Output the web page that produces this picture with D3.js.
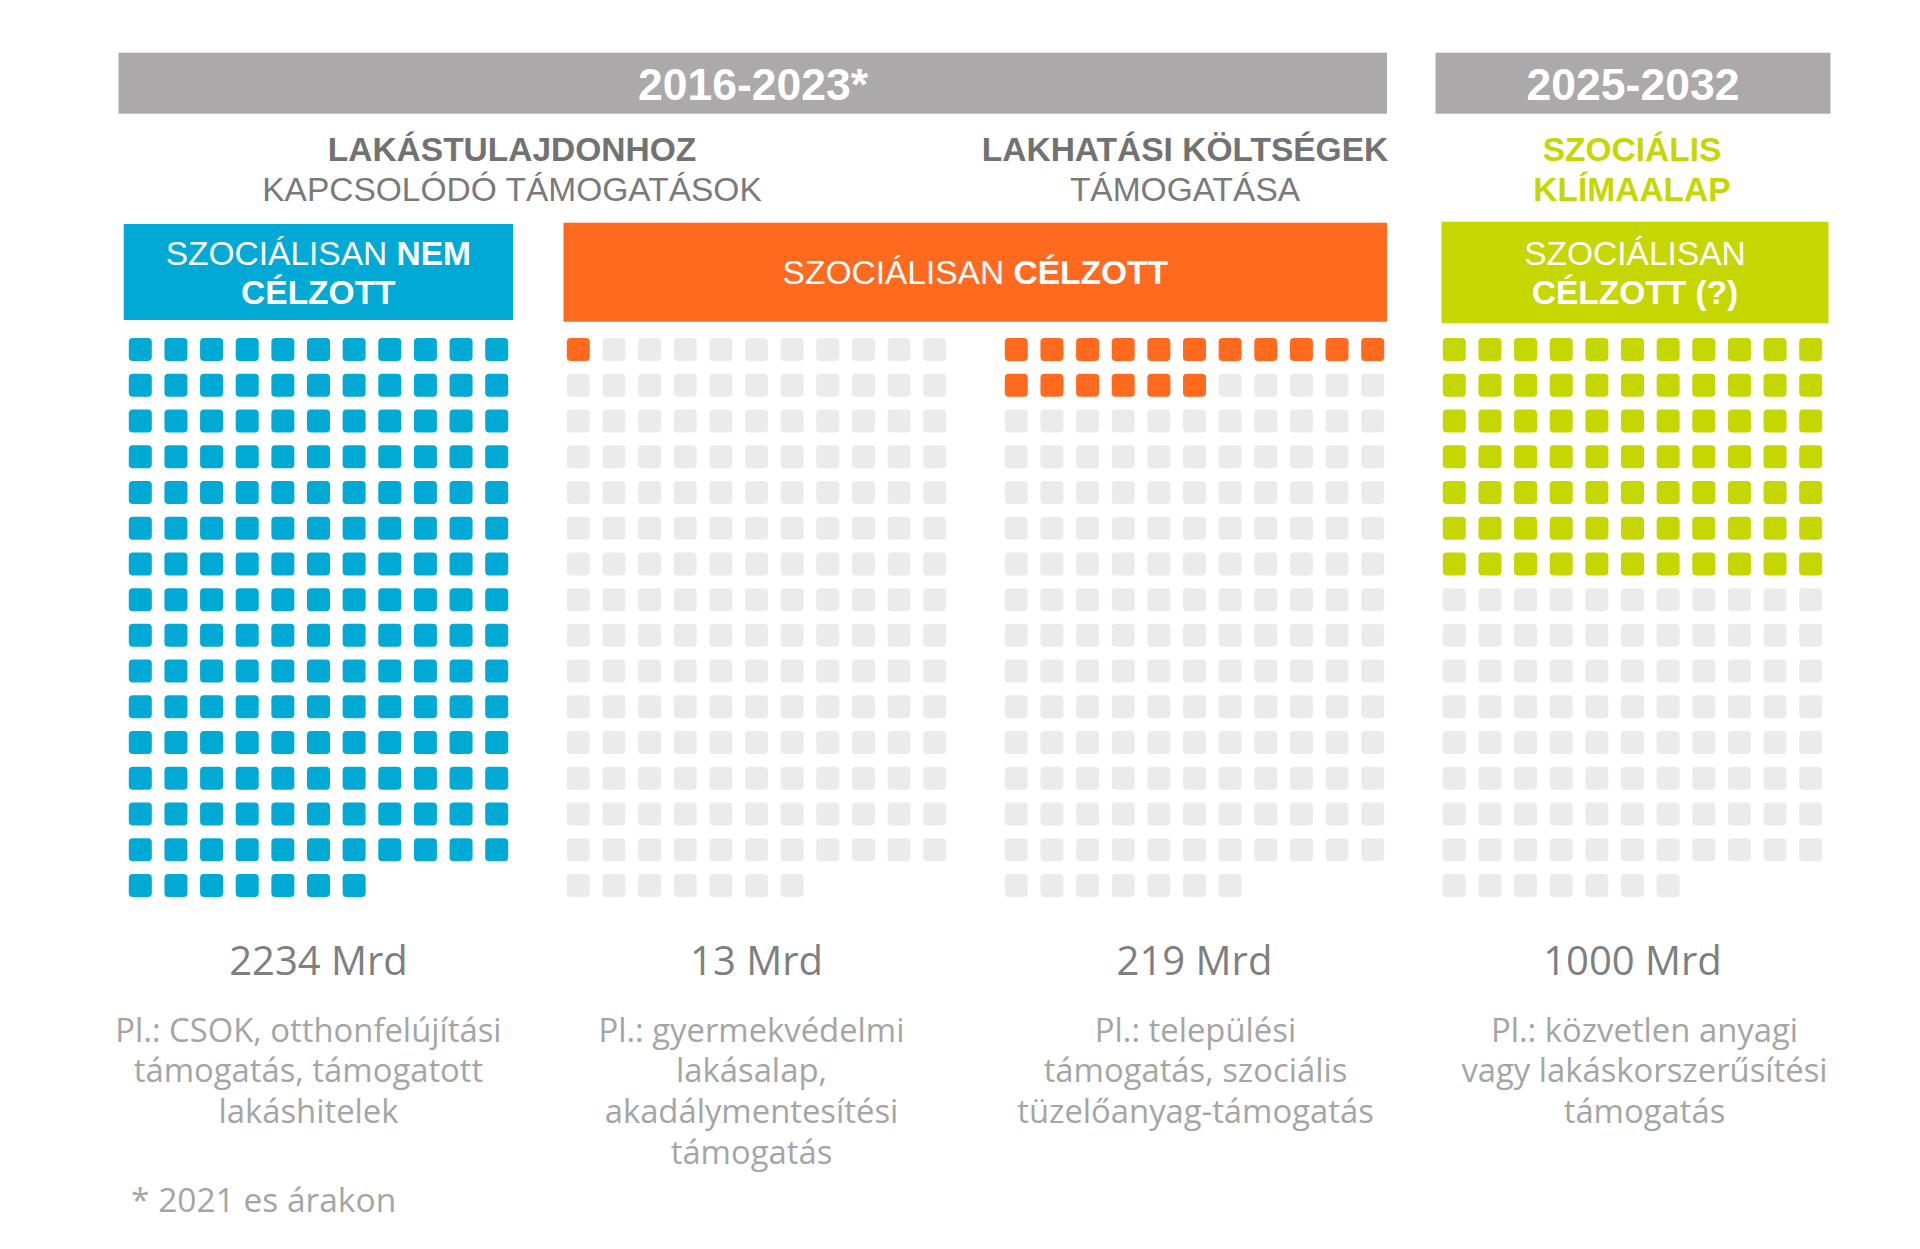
<!DOCTYPE html>
<html lang="hu">
<head>
  <meta charset="UTF-8">
  <title>Lakhatási támogatások – négyzetrács</title>
  <script src="https://d3js.org/d3.v7.min.js"></script>
  <style>
    html, body { margin: 0; padding: 0; background: #fff; }
    svg { display: block; }
    .head { font-family: "Liberation Sans", Arial, sans-serif; }
    .body-text { font-family: "Open Sans", "Noto Sans", sans-serif; }
  </style>
</head>
<body>
  <svg width="1920" height="1249"></svg>

  <script>
    // ---- data ----
    const periods = ["2016-2023*", "2025-2032"];
    const titleBold = ["LAKÁSTULAJDONHOZ", "LAKHATÁSI KÖLTSÉGEK", "SZOCIÁLIS"];
    const titleRegular = ["KAPCSOLÓDÓ TÁMOGATÁSOK", "TÁMOGATÁSA", "KLÍMAALAP"];
    const categories = ["lakastulajdon", "gyermekvedelmi", "lakhatasi", "klimaalap"];
    const amounts = [2234, 13, 219, 1000];            // Mrd Ft
    const amountLabels = ["2234 Mrd", "13 Mrd", "219 Mrd", "1000 Mrd"];
    const descriptions = [
      ["Pl.: CSOK, otthonfelújítási", "támogatás, támogatott", "lakáshitelek"],
      ["Pl.: gyermekvédelmi", "lakásalap,", "akadálymentesítési", "támogatás"],
      ["Pl.: települési", "támogatás, szociális", "tüzelőanyag-támogatás"],
      ["Pl.: közvetlen anyagi", "vagy lakáskorszerűsítési", "támogatás"]
    ];
    const unitValue = 13;     // Mrd per square
    const gridCols = 11;
    const gridCells = 172;    // squares per grid
    const footnote = "* 2021 es árakon";

    // ---- style ----
    const blue = "#00aad5", orange = "#ff6a1f", green = "#c6d600";
    const fillColors = [blue, orange, orange, green];
    const emptyColor = "#ebebeb";
    const barGray = "#aba9a9";

    const svg = d3.select("svg");
    svg.append("rect").attr("width", 1920).attr("height", 1249).attr("fill", "#fff");

    // group centres
    const gx = d3.scalePoint().domain(categories).range([318.5, 1632.5]);
    const cell = 23;
    const colX = d3.scaleLinear().domain([0, gridCols - 1]).range([-178.2, 178.2]);
    const rowY = d3.scaleLinear().domain([0, 15]).range([349.5, 885.5]);

    // period bars
    const barSpans = [[118.5, 1387], [1435.5, 1830.5]];
    svg.selectAll(".pbar").data(periods).join("rect")
      .attr("x", (d, i) => barSpans[i][0])
      .attr("y", 52.7)
      .attr("width", (d, i) => barSpans[i][1] - barSpans[i][0])
      .attr("height", 61)
      .attr("fill", barGray);
    svg.selectAll(".ptext").data(periods).join("text")
      .attr("class", "head")
      .attr("x", (d, i) => i === 0 ? 753 : 1633)
      .attr("y", 100)
      .attr("text-anchor", "middle")
      .attr("font-size", 44.5).attr("font-weight", "bold")
      .attr("fill", "#fff")
      .text(d => d);

    // section titles
    const titleX = [512, 1185, 1632];
    titleBold.forEach((t, i) => {
      const col = i === 2 ? green : "#727272";
      svg.append("text").attr("class", "head")
        .attr("x", titleX[i]).attr("y", 160.5)
        .attr("text-anchor", "middle").attr("font-size", 33.5)
        .attr("font-weight", "bold").attr("fill", col).text(t);
      svg.append("text").attr("class", "head")
        .attr("x", titleX[i]).attr("y", 201)
        .attr("text-anchor", "middle").attr("font-size", 33.5)
        .attr("font-weight", i === 2 ? "bold" : "normal")
        .attr("fill", i === 2 ? green : "#7a7a7a").text(titleRegular[i]);
    });

    // coloured target boxes
    const boxes = [
      {x0: 123.7, x1: 513, y0: 224, y1: 320, fill: blue,
       lines: [[["SZOCIÁLISAN ", "normal"], ["NEM", "bold"]], [["CÉLZOTT", "bold"]]]},
      {x0: 563.5, x1: 1387, y0: 222.7, y1: 321.7, fill: orange,
       lines: [[["SZOCIÁLISAN ", "normal"], ["CÉLZOTT", "bold"]]]},
      {x0: 1441.5, x1: 1828.5, y0: 221.7, y1: 323.3, fill: green,
       lines: [[["SZOCIÁLISAN", "normal"]], [["CÉLZOTT (?)", "bold"]]]}
    ];
    boxes.forEach(b => {
      svg.append("rect").attr("x", b.x0).attr("y", b.y0)
        .attr("width", b.x1 - b.x0).attr("height", b.y1 - b.y0).attr("fill", b.fill);
      const ys = b.lines.length === 1 ? [284] : [264.5, 303.5];
      b.lines.forEach((ln, j) => {
        const t = svg.append("text").attr("class", "head")
          .attr("x", (b.x0 + b.x1) / 2).attr("y", ys[j])
          .attr("text-anchor", "middle").attr("font-size", 33.5).attr("fill", "#fff");
        ln.forEach(([s, w]) => t.append("tspan").attr("font-weight", w).text(s));
      });
    });

    // waffle grids
    categories.forEach((c, gi) => {
      const filled = Math.round(amounts[gi] / unitValue);
      const cells = d3.range(gridCells).map(k => ({
        col: k % gridCols, row: Math.floor(k / gridCols), on: k < filled
      }));
      svg.append("g")
        .attr("transform", `translate(${gx(c)},0)`)
        .selectAll("rect").data(cells).join("rect")
        .attr("x", d => colX(d.col) - cell / 2)
        .attr("y", d => rowY(d.row) - cell / 2)
        .attr("width", cell).attr("height", cell)
        .attr("rx", 4)
        .attr("fill", d => d.on ? fillColors[gi] : emptyColor);
    });

    // amounts
    svg.selectAll(".amount").data(amountLabels).join("text")
      .attr("class", "body-text")
      .attr("x", (d, i) => gx(categories[i]))
      .attr("y", 975)
      .attr("text-anchor", "middle")
      .attr("font-size", 40).attr("fill", "#7f7f7f")
      .text(d => d);

    // descriptions
    const descShift = [-10, -5, 1, 12];
    descriptions.forEach((lines, i) => {
      svg.append("g").selectAll("text").data(lines).join("text")
        .attr("class", "body-text")
        .attr("x", gx(categories[i]) + descShift[i])
        .attr("y", (d, j) => 1041.5 + j * 40.8)
        .attr("text-anchor", "middle")
        .attr("font-size", 32.8).attr("fill", "#a5a5a5")
        .text(d => d);
    });

    svg.append("text").attr("class", "body-text")
      .attr("x", 131).attr("y", 1212)
      .attr("font-size", 33.5).attr("fill", "#a5a5a5")
      .text(footnote);
  </script>
</body>
</html>
